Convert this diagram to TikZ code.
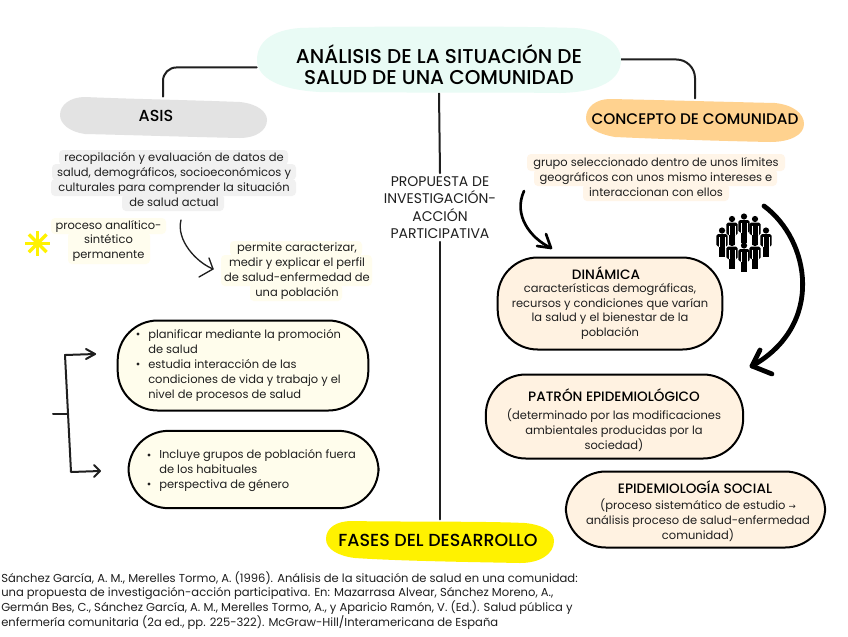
\documentclass[tikz,border=0pt]{standalone}
\usepackage{fontspec}
\setmainfont{Poppins}
\newfontfamily\medfam{Poppins Medium}
\newfontfamily\arrowfam{DejaVu Sans}
\usetikzlibrary{arrows.meta,calc}
\definecolor{ink}{HTML}{1F1F1F}
\definecolor{mintb}{HTML}{E9FBF5}
\definecolor{grayb}{HTML}{E3E3E3}
\definecolor{orangeb}{HTML}{FFD28F}
\definecolor{yellowb}{HTML}{FFF200}
\definecolor{creamb}{HTML}{FFF2E1}
\definecolor{ivoryb}{HTML}{FFFDEC}
\definecolor{hlgray}{HTML}{F1F1F1}
\definecolor{hlivory}{HTML}{FFFDEE}
\definecolor{hlcream}{HTML}{FFF5E8}
\newcommand{\bodyf}{\fontsize{8.6}{11.1}\selectfont}
\newcommand{\headf}{\medfam\fontsize{10.2}{12}\selectfont}
\newcommand{\titlef}{\medfam\fontsize{15}{16.1}\selectfont}
\newcommand{\person}[2]{%
  \fill[black] (#1,#2) circle (3.1);
  \fill[black,rounded corners=1.2] (#1-5.6,#2+3.6) rectangle (#1+5.6,#2+16);
  \fill[black] (#1-3.3,#2+13) rectangle (#1-0.25,#2+26);
  \fill[black] (#1+0.25,#2+13) rectangle (#1+3.3,#2+26);
  \draw[white,line width=.25pt] (#1-3.3,#2+6.5) -- (#1-3.3,#2+16) (#1+3.3,#2+6.5) -- (#1+3.3,#2+16);
}
\tikzset{
  x=0.75pt,y=-0.75pt,
  txt/.style={inner sep=0pt,align=center,text=ink,font=\bodyf},
  headtxt/.style={inner sep=0pt,align=center,text=black,font=\headf},
  blobname/.style={inner sep=0pt,align=center,text=black},
  conn/.style={draw=ink,line width=1.5pt,line cap=round},
  thin arrow/.style={draw=ink,line width=1pt,line cap=round,line join=round},
  bubble/.style={draw=black,line width=1.5pt,rounded corners=30pt,inner sep=0pt,fill=#1},
  hl/.style={rounded corners=3pt},
}
\begin{document}
\begin{tikzpicture}
\useasboundingbox (0,0) rectangle (848,636);
\fill[white] (0,0) rectangle (848,636);
% main nodes (text placed later on the same positions)
\node[minimum width=273pt,minimum height=49.5pt,inner sep=0pt] (title) at (439,60) {};
\node[minimum width=155pt,minimum height=31pt,inner sep=0pt] (asis) at (163,117.5) {};
\node[minimum width=164pt,minimum height=32pt,inner sep=0pt] (comunidad) at (695,120) {};
\node[minimum width=171pt,minimum height=32pt,inner sep=0pt] (fases) at (440,541) {};
\node[txt,text=ink,font=\fontsize{10.5}{13.2}\selectfont] (propuesta) at (440,207.5) {PROPUESTA DE\\INVESTIGACIÓN-\\ACCIÓN\\PARTICIPATIVA};
% connectors
\draw[conn,rounded corners=10pt] ([yshift=-5.5pt]title.west) -- (163,67.5) -- (asis.north -| 163,0);
\draw[conn,rounded corners=14pt] ([yshift=0.4pt]title.east) -- (695,59.5) -- (comunidad.north);
\draw[conn] (title.south) -- ([yshift=2pt]propuesta.north);
\draw[conn] ([yshift=-2pt]propuesta.south) -- (fases.north);
% blobs
\fill[mintb] (300,28) .. controls (360,26) and (520,26) .. (575,28) .. controls (605,30) and (621,45) .. (621,60) .. controls (621,80) and (600,92) .. (560,93) .. controls (480,92) and (380,93) .. (320,92) .. controls (280,90) and (257,78) .. (257,60) .. controls (257,42) and (272,30) .. (300,28) -- cycle;
\fill[grayb] (85,97) .. controls (130,99) and (190,100) .. (240,102) .. controls (258,104) and (267,112) .. (267,120) .. controls (267,131) and (255,138) .. (240,138) .. controls (190,137) and (130,135) .. (85,134) .. controls (70,132) and (60,124) .. (60,115) .. controls (60,105) and (70,97) .. (85,97) -- cycle;
\fill[orangeb] (610,99) .. controls (660,100) and (730,102) .. (775,103) .. controls (794,105) and (804,114) .. (804,124) .. controls (804,135) and (790,142) .. (770,142) .. controls (720,141) and (660,139) .. (615,137) .. controls (598,134) and (586,128) .. (586,118) .. controls (586,107) and (596,99) .. (610,99) -- cycle;
\fill[yellowb] (352,521) .. controls (400,522) and (480,521) .. (525,523) .. controls (544,525) and (554,532) .. (554,541) .. controls (554,554) and (540,563) .. (520,563) .. controls (470,562) and (400,561) .. (355,558) .. controls (338,556) and (326,549) .. (326,539) .. controls (326,528) and (336,521) .. (352,521) -- cycle;
\node[blobname,font=\titlef] at (439,64.5) {ANÁLISIS DE LA SITUACIÓN DE\\SALUD DE UNA COMUNIDAD};
\node[blobname,font=\medfam\fontsize{12}{12}\selectfont] at (156,115.5) {ASIS};
\node[blobname,font=\medfam\fontsize{11.5}{12}\selectfont] at (695,119) {CONCEPTO DE COMUNIDAD};
\node[blobname,font=\medfam\fontsize{13.1}{12}\selectfont] at (438,540) {FASES DEL DESARROLLO};
% highlights
\fill[hlgray,hl] (59,150) rectangle (288,165);
\fill[hlgray,hl] (52,164) rectangle (296,180);
\fill[hlgray,hl] (51,179) rectangle (296,196);
\fill[hlgray,hl] (122,194) rectangle (224,211);
\fill[hlivory,hl] (51,218) rectangle (166,234);
\fill[hlivory,hl] (68,232) rectangle (150,264);
\fill[hlivory,hl] (230,241) rectangle (362,256);
\fill[hlivory,hl] (221,255) rectangle (372,286);
\fill[hlivory,hl] (250,284) rectangle (342,301);
\fill[hlcream,hl] (527,154) rectangle (785,171);
\fill[hlcream,hl] (534,169) rectangle (777,186);
\fill[hlcream,hl] (583,184) rectangle (729,201);
% highlighted text
\node[txt] (recop) at (174,179.5) {recopilación y evaluación de datos de\\salud, demográficos, socioeconómicos y\\culturales para comprender la situación\\de salud actual};
\node[txt] (proceso) at (108.5,241) {proceso analítico-\\sintético\\permanente};
\node[txt] (permite) at (297,271) {permite caracterizar,\\medir y explicar el perfil\\de salud-enfermedad de\\una población};
\node[txt] (grupo) at (656,177) {grupo seleccionado dentro de unos límites\\geográficos con unos mismo intereses e\\interaccionan con ellos};
% asterisk
\foreach \a in {0,45,...,315}
  \draw[yellowb,line width=2.5pt] (37.7,243.3) -- ++(\a:12.5);
% bubbles
\node[bubble=ivoryb,minimum width=188pt,minimum height=67.5pt] (b1) at (243,365.5) {};
\node[bubble=ivoryb,minimum width=187.5pt,minimum height=58pt] (b2) at (253.5,469.5) {};
\node[bubble=creamb,minimum width=168.5pt,minimum height=69pt] (din) at (610,303.5) {};
\node[bubble=creamb,minimum width=193pt,minimum height=63pt] (pat) at (614.5,416.5) {};
\node[bubble=creamb,minimum width=194.5pt,minimum height=57pt] (epi) at (695.5,509.5) {};
% bubble text
\node[txt,align=left,anchor=north west] (b1t) at (148,329.5) {planificar mediante la promoción\\de salud\\estudia interacción de las\\condiciones de vida y trabajo y el\\nivel de procesos de salud};
\fill[ink] (138,334) circle (1.6) (138,364) circle (1.6);
\node[txt,align=left,anchor=north west] (b2t) at (159,449.5) {Incluye grupos de población fuera\\de los habituales\\perspectiva de género};
\fill[ink] (149,455) circle (1.6) (149,484) circle (1.6);
\node[headtxt] (dint) at (606,273) {DINÁMICA};
\node[txt] at (610,311.5) {características demográficas,\\recursos y condiciones que varían\\la salud y el bienestar de la\\población};
\node[headtxt] (patt) at (614,395.5) {PATRÓN EPIDEMIOLÓGICO};
\node[txt] at (614,430) {(determinado por las modificaciones\\ambientales producidas por la\\sociedad)};
\node[headtxt] (epit) at (695,487) {EPIDEMIOLOGÍA SOCIAL};
\node[txt] at (698,520) {(proceso sistemático de estudio {\arrowfam\fontsize{6.5}{11.1}\selectfont →}\\análisis proceso de salud-enfermedad\\comunidad)};
% bracket
\coordinate (brL) at (53,414);
\coordinate (brM) at (68,414);
\coordinate (brT) at (65,355);
\coordinate (brB) at (71,472);
\draw[conn] (brL) -- (brM);
\draw[conn,line join=round] (95,354) -- (brT) -- (brB) -- (100,471);
\draw[conn,line join=round] (86,349) -- (95,354) -- (86,359);
\draw[conn,line join=round] (94,465) -- (100,471) -- (94,477);
% curved arrows
\coordinate (a1s) at (181,220);
\coordinate (a1e) at (213,269);
\draw[thin arrow] (a1s) .. controls (176,240) and (196,262) .. (a1e);
\draw[thin arrow] (209,258) -- (a1e) -- (199,277);
\coordinate (a2s) at (524,191);
\coordinate (a2e) at (551,248);
\draw[conn,draw=black,line width=2pt] (a2s) .. controls (513,215) and (530,238) .. (a2e);
\draw[conn,draw=black,line width=2pt,line join=round] (546,234) -- (a2e) -- (537,246);
\coordinate (a3s) at (764,206);
\coordinate (a3e) at (752,366);
\draw[conn,draw=black,line width=3.6pt] (a3s) .. controls (810,240) and (825,325) .. (a3e);
\draw[conn,draw=black,line width=3.6pt,line join=round] (760,350) -- (a3e) -- (772,374);
% people
\person{732}{219}\person{755}{219}\person{744}{216.5}
\person{722}{230.5}\person{766}{230.5}
\person{732}{243}\person{755}{243}\person{744}{245.5}
% reference
\node[txt,align=left,anchor=north west,font=\fontsize{8.66}{11.1}\selectfont] (ref) at (1,571) {Sánchez García, A. M., Merelles Tormo, A. (1996). Análisis de la situación de salud en una comunidad:\\una propuesta de investigación-acción participativa. En: Mazarrasa Alvear, Sánchez Moreno, A.,\\Germán Bes, C., Sánchez García, A. M., Merelles Tormo, A., y Aparicio Ramón, V. (Ed.). Salud pública y\\enfermería comunitaria (2a ed., pp. 225-322). McGraw-Hill/Interamericana de España};
\end{tikzpicture}
\end{document}
